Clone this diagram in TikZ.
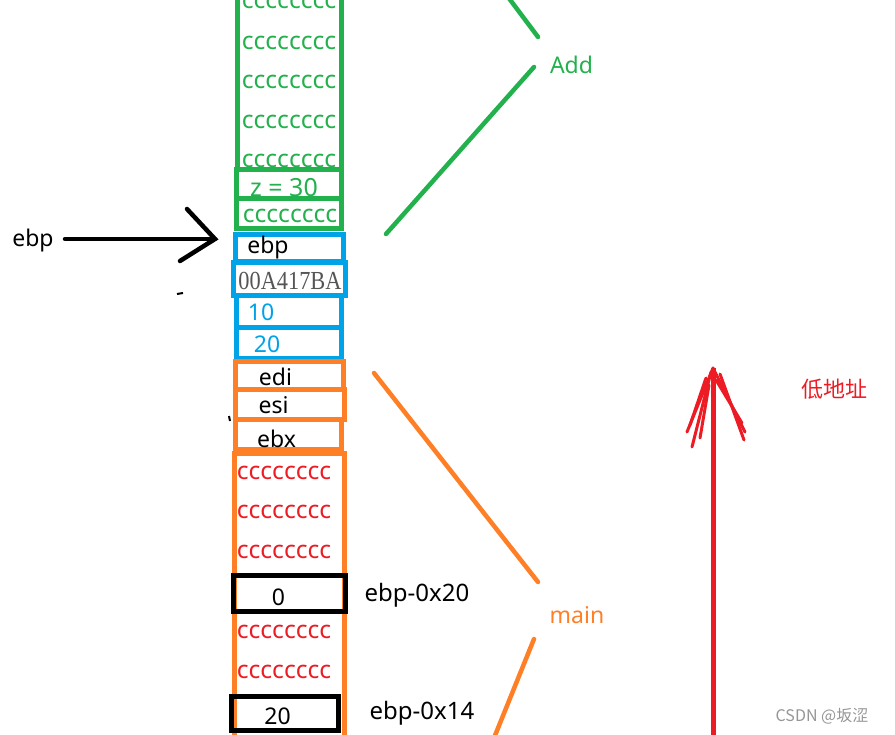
\documentclass[tikz,border=0pt]{standalone}
\usepackage{fontspec}
\setmainfont{Noto Sans}
\newfontfamily\cjkfont{Noto Sans CJK SC}
\newfontfamily\dumpfont{Liberation Serif}
\definecolor{paintgreen}{RGB}{34,177,76}
\definecolor{paintblue}{RGB}{0,162,232}
\definecolor{paintorange}{RGB}{255,127,39}
\definecolor{paintred}{RGB}{237,28,36}
\definecolor{dumpgray}{RGB}{85,85,85}
\definecolor{markgray}{RGB}{150,150,150}
\begin{document}
\begin{tikzpicture}[x=1pt,y=-1pt,
  cell/.style={draw,line width=5pt,inner sep=0pt},
  txt/.style={inner sep=0pt,font=\fontsize{23}{27}\selectfont},
  ctxt/.style={inner sep=0pt,font=\fontsize{24.5}{28}\selectfont},
  stroke/.style={line width=4.5pt,line cap=round}]
\clip (0,0) rectangle (895,735);
\node[cell,paintgreen,minimum width=104pt,minimum height=185pt] (g0) at (289.5,77.5) {};
\node[cell,paintgreen,minimum width=104.5pt,minimum height=29pt] (g1) at (289,184.5) {};
\node[cell,paintgreen,minimum width=104.5pt,minimum height=30pt] (g2) at (289,214) {};
\node[ctxt,paintgreen] (gc0) at (289,2) {cccccccc};
\node[ctxt,paintgreen] (gc1) at (289,42.5) {cccccccc};
\node[ctxt,paintgreen] (gc2) at (289,82) {cccccccc};
\node[ctxt,paintgreen] (gc3) at (289,121.5) {cccccccc};
\node[ctxt,paintgreen] (gc4) at (289,161) {cccccccc};
\node[txt,paintgreen,font=\fontsize{25}{29}\selectfont] (zval) at (284,187.5) {z = 30};
\node[ctxt,paintgreen] (gc5) at (290,215.5) {cccccccc};
\node[cell,paintblue,minimum width=108pt,minimum height=27.5pt] (b0) at (289.5,248) {};
\node[cell,paintblue,minimum width=112pt,minimum height=33.5pt] (b1) at (289.5,279) {};
\node[cell,paintblue,minimum width=105pt,minimum height=32pt] (b2) at (289,311.5) {};
\node[cell,paintblue,minimum width=105pt,minimum height=30.5pt] (b3) at (289,343) {};
\node[txt] (ebpcell) at (268,248) {ebp};
\node[inner sep=0pt,dumpgray,xscale=0.86,font=\dumpfont\fontsize{26}{30}\selectfont] (ret) at (290,281) {00A417BA};
\node[txt,paintblue] (arga) at (261,312) {10};
\node[txt,paintblue] (argb) at (267,344) {20};
\node[cell,paintorange,minimum width=108pt,minimum height=27.5pt] (o0) at (289.5,375.75) {};
\node[cell,paintorange,minimum width=109pt,minimum height=30pt] (o1) at (290,404.5) {};
\node[cell,paintorange,minimum width=106pt,minimum height=30pt] (o2) at (288.5,434.5) {};
\node[cell,paintorange,minimum width=110pt,minimum height=296pt] (o3) at (289.5,602) {};
\node[txt] (edi) at (275.5,376.5) {edi};
\node[txt] (esi) at (273.5,405) {esi};
\node[txt] (ebx) at (276.5,438.5) {ebx};
\node[ctxt,paintred] (rc0) at (284,472.5) {cccccccc};
\node[ctxt,paintred] (rc1) at (284,511.5) {cccccccc};
\node[ctxt,paintred] (rc2) at (284,551.5) {cccccccc};
\node[ctxt,paintred] (rc3) at (284,632) {cccccccc};
\node[ctxt,paintred] (rc4) at (284,671.5) {cccccccc};
\node[cell,black,minimum width=112pt,minimum height=36pt] (k0) at (289.5,593.5) {};
\node[cell,black,minimum width=107pt,minimum height=34pt] (k1) at (285,713.5) {};
\node[txt] (xval) at (278.5,597.5) {0};
\node[txt] (yval) at (277.5,716) {20};
\node[txt,font=\fontsize{24}{28}\selectfont] (off20) at (417,595) {ebp-0x20};
\node[txt,font=\fontsize{24}{28}\selectfont] (off14) at (422,713.5) {ebp-0x14};
\node[txt,paintgreen] (addlbl) at (571.5,64.5) {Add};
\node[txt,paintorange] (mainlbl) at (577,615) {main};
\node[txt] (ebplbl) at (33,241) {ebp};
\node[inner sep=0pt,paintred,font=\cjkfont\fontsize{22}{26}\selectfont] (lowaddr) at (834,389) {低地址};
\node[inner sep=0pt,markgray,font=\cjkfont\fontsize{16}{19}\selectfont] (mark) at (822,716) {CSDN @坂涩};
\coordinate (adda) at (508,-3);
\coordinate (addb) at (538,37);
\coordinate (addc) at (534,67);
\coordinate (addd) at (386,234);
\coordinate (maina) at (374,373);
\coordinate (mainb) at (538,582);
\coordinate (mainc) at (534,639);
\coordinate (maind) at (494,738);
\draw[stroke,paintgreen] (adda) -- (addb);
\draw[stroke,paintgreen] (addc) -- (addd);
\draw[stroke,paintorange] (maina) -- (mainb);
\draw[stroke,paintorange] (mainc) -- (maind);
\coordinate (ptrtail) at (65,239);
\coordinate (ptrtip) at (215,239);
\draw[stroke] (ptrtail) -- (ptrtip);
\draw[stroke] (187,209) -- (ptrtip) -- (180,261);
\draw[line width=2pt] (177,294) -- (183,293);
\draw[line width=2pt] (229,416) -- (230,421);
\coordinate (uptail) at (713,740);
\coordinate (uptip) at (713,368);
\draw[line width=5pt,paintred] (uptail) -- (uptip);
\draw[line width=3pt,line cap=round,paintred] (uptip) -- (687,432);
\draw[line width=3pt,line cap=round,paintred] (711,372) -- (692,447);
\draw[line width=3pt,line cap=round,paintred] (709,385) -- (700,438);
\draw[line width=3pt,line cap=round,paintred] (706,378) -- (690,425);
\draw[line width=3pt,line cap=round,paintred] (uptip) -- (745,432);
\draw[line width=3pt,line cap=round,paintred] (716,380) -- (742,423);
\draw[line width=3pt,line cap=round,paintred] (720,374) -- (744,440);
\end{tikzpicture}
\end{document}
